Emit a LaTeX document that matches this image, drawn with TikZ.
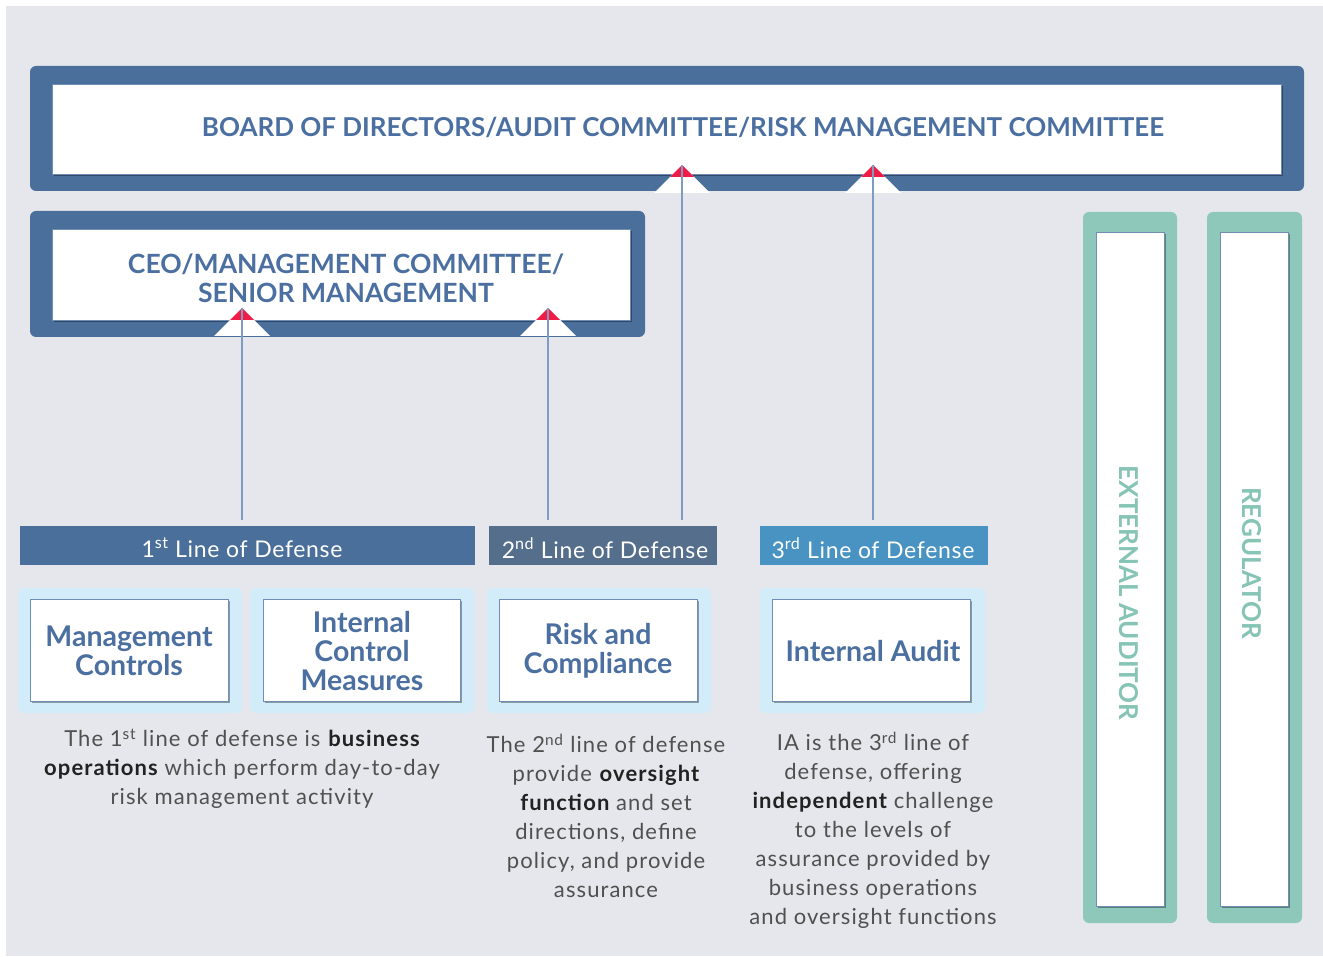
\documentclass[tikz,border=0pt]{standalone}
\usepackage{fontspec}
\setmainfont{Lato}
\usetikzlibrary{shadows}
\definecolor{bg}{HTML}{E6E7EC}
\definecolor{boardblue}{HTML}{4A6F9B}
\definecolor{titleblue}{HTML}{4A6FA0}
\definecolor{redtip}{HTML}{EE1C47}
\definecolor{connblue}{HTML}{7E9CC2}
\definecolor{bartwo}{HTML}{546E8C}
\definecolor{barthree}{HTML}{4893C2}
\definecolor{lightbox}{HTML}{D2EDF9}
\definecolor{tealbox}{HTML}{8DC8BA}
\definecolor{tealtext}{HTML}{86C4B5}
\definecolor{desctext}{HTML}{505050}
\definecolor{descbold}{HTML}{222222}
\definecolor{innerline}{HTML}{6F8DB5}
\tikzset{
  outerbox/.style={fill=boardblue, rounded corners=6pt, inner sep=0pt, draw=none},
  innerbox/.style={fill=white, draw=innerline, line width=0.8pt, inner sep=0pt,
    drop shadow={shadow xshift=2pt, shadow yshift=-2pt, opacity=0.35, fill=black}},
  barbox/.style={inner sep=0pt, draw=none, minimum height=39pt},
  bartext/.style={text=white, font=\fontsize{23}{26}\selectfont\addfontfeatures{LetterSpace=3}, inner sep=0pt},
  lightbg/.style={fill=lightbox, rounded corners=6pt, inner sep=0pt, minimum width=224pt, minimum height=125pt},
  whitebox/.style={innerbox, minimum width=198pt, minimum height=102pt},
  boxtext/.style={text=titleblue, font=\bfseries\fontsize{28.5}{29}\selectfont, align=center, inner sep=0pt},
  desc/.style={text=desctext, font=\fontsize{22}{29}\selectfont\addfontfeatures{LetterSpace=5}, align=center, inner sep=0pt},
  tealouter/.style={fill=tealbox, rounded corners=6pt, inner sep=0pt, minimum height=711pt},
  tealinner/.style={innerbox, minimum width=68pt, minimum height=674pt},
  tealtxt/.style={text=tealtext, font=\bfseries\fontsize{26}{28}\selectfont, rotate=-90, inner sep=0pt},
  conn/.style={draw=connblue, line width=1.3pt},
}
\newcommand{\bd}[1]{\textbf{\color{descbold}#1}}
\begin{document}
\begin{tikzpicture}[x=1pt,y=-1pt]
\useasboundingbox (0,0) rectangle (1323,957);
\fill[bg] (6,6) rectangle (1323,956);

% Board
\node[outerbox, minimum width=1274pt, minimum height=125pt] (boardout) at (667,128.5) {};
\node[innerbox, minimum width=1229pt, minimum height=90pt] (boardin) at (666.5,129) {};
\node[text=titleblue, font=\bfseries\fontsize{26}{28}\selectfont, inner sep=0pt] (boardtext) at (683,127)
  {BOARD OF DIRECTORS/AUDIT COMMITTEE/RISK MANAGEMENT COMMITTEE};

% CEO
\node[outerbox, minimum width=615pt, minimum height=126pt] (ceoout) at (337.5,274) {};
\node[innerbox, minimum width=578pt, minimum height=91pt] (ceoin) at (341,274.5) {};
\node[text=titleblue, font=\bfseries\fontsize{26.5}{29}\selectfont, align=center, inner sep=0pt] (ceotext) at (346,278)
  {CEO/MANAGEMENT COMMITTEE/\\SENIOR MANAGEMENT};

% triangles
\foreach \tx/\ty in {682/165, 873/165, 242/308, 548/308}{
  \fill[white] (\tx,\ty) -- (\tx-28,\ty+28) -- (\tx+28,\ty+28) -- cycle;
  \fill[redtip] (\tx,\ty) -- (\tx-12,\ty+12) -- (\tx+12,\ty+12) -- cycle;
}
\coordinate (t1) at (242,308);
\coordinate (t2) at (548,308);
\coordinate (t3) at (682,165);
\coordinate (t4) at (873,165);
\coordinate (e1) at (242,520);
\coordinate (e2) at (548,520);
\coordinate (e3) at (682,520);
\coordinate (e4) at (873,520);
\draw[conn] (t1) -- (e1);
\draw[conn] (t2) -- (e2);
\draw[conn] (t3) -- (e3);
\draw[conn] (t4) -- (e4);

% bars
\node[barbox, fill=boardblue, minimum width=455pt] (bar1) at (247.5,545.5) {};
\node[bartext] (bar1t) at (242,548) {1\textsuperscript{st} Line of Defense};
\node[barbox, fill=bartwo, minimum width=228pt] (bar2) at (603,545.5) {};
\node[bartext] (bar2t) at (605,548) {2\textsuperscript{nd} Line of Defense};
\node[barbox, fill=barthree, minimum width=228pt] (bar3) at (874,545.5) {};
\node[bartext] (bar3t) at (873,548) {3\textsuperscript{rd} Line of Defense};

% boxes
\node[lightbg] (lb1) at (130,650.5) {};
\node[lightbg] (lb2) at (362,650.5) {};
\node[lightbg] (lb3) at (599,650.5) {};
\node[lightbg, minimum width=225pt] (lb4) at (872.5,650.5) {};
\node[whitebox] (w1) at (129,650) {};
\node[whitebox, minimum width=197pt] (w2) at (361.5,650) {};
\node[whitebox] (w3) at (598,650) {};
\node[whitebox] (w4) at (871,650) {};
\node[boxtext] (w1t) at (129,651) {Management\\Controls};
\node[boxtext] (w2t) at (362,651) {Internal\\Control\\Measures};
\node[boxtext] (w3t) at (598,651) {Risk and\\Compliance};
\node[boxtext] (w4t) at (873,651) {Internal Audit};

% descriptions
\node[desc] (d1) at (242,769) {The 1\textsuperscript{st} line of defense is \bd{business}\\\bd{operations} which perform day-to-day\\risk management activity};
\node[desc] (d2) at (606,816) {The 2\textsuperscript{nd} line of defense\\provide \bd{oversight}\\\bd{function} and set\\directions, define\\policy, and provide\\assurance};
\node[desc] (d3) at (873,830.5) {IA is the 3\textsuperscript{rd} line of\\defense, offering\\\bd{independent} challenge\\to the levels of\\assurance provided by\\business operations\\and oversight functions};

% right columns
\node[tealouter, minimum width=94pt] (eaout) at (1130,567.5) {};
\node[tealinner] (eain) at (1130,569) {};
\node[tealtxt] (eatext) at (1129,593) {EXTERNAL AUDITOR};
\node[tealouter, minimum width=95pt] (regout) at (1254.5,567.5) {};
\node[tealinner] (regin) at (1254,569) {};
\node[tealtxt] (regtext) at (1252,563) {REGULATOR};
\end{tikzpicture}
\end{document}
